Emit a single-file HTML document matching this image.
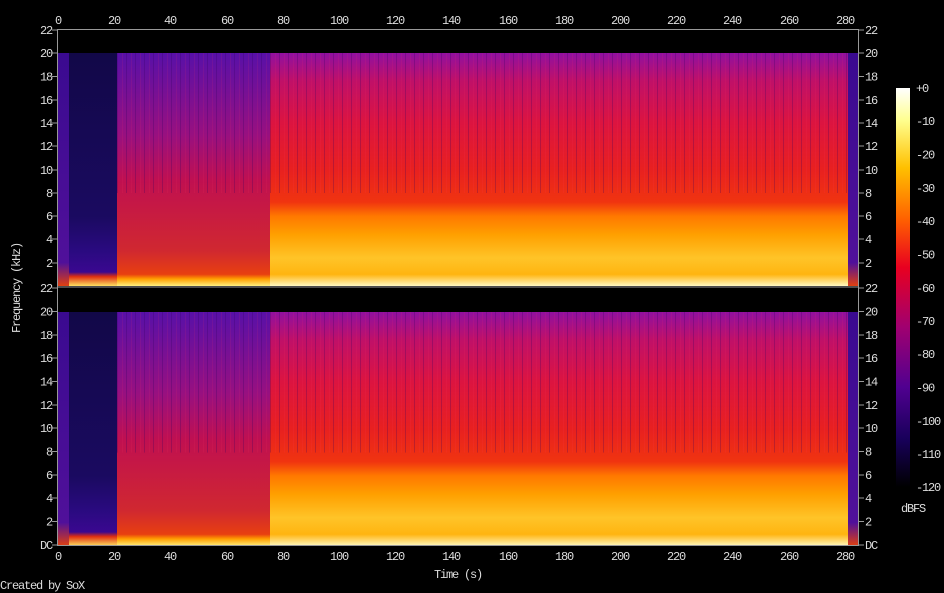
<!DOCTYPE html>
<html><head><style>body{margin:0;background:#000}svg{display:block}text{font-family:"Liberation Mono",monospace;font-size:12px;letter-spacing:-1.2px;fill:#ddd}</style></head><body>
<svg width="944" height="593" viewBox="0 0 944 593">
<defs>
<linearGradient id="main" x1="0" y1="0" x2="0" y2="1">
<stop offset="0" stop-color="#9010a0"/><stop offset="0.12" stop-color="#c01068"/><stop offset="0.3" stop-color="#dc1440"/><stop offset="0.5" stop-color="#e82020"/><stop offset="0.64" stop-color="#f03410"/><stop offset="0.7" stop-color="#ff7800"/><stop offset="0.78" stop-color="#ffa000"/><stop offset="0.88" stop-color="#ffc428"/><stop offset="0.95" stop-color="#ffb410"/><stop offset="1" stop-color="#fff8c0"/></linearGradient>
<linearGradient id="mid" x1="0" y1="0" x2="0" y2="1">
<stop offset="0" stop-color="#5810a8"/><stop offset="0.35" stop-color="#981080"/><stop offset="0.55" stop-color="#c01050"/><stop offset="0.85" stop-color="#d02830"/><stop offset="0.95" stop-color="#e84010"/><stop offset="0.97" stop-color="#ffa000"/><stop offset="1" stop-color="#fff080"/></linearGradient>
<linearGradient id="dark" x1="0" y1="0" x2="0" y2="1">
<stop offset="0" stop-color="#120848"/><stop offset="0.7" stop-color="#1a0a60"/><stop offset="0.85" stop-color="#2a0a80"/><stop offset="0.94" stop-color="#3a0890"/><stop offset="0.96" stop-color="#e03010"/><stop offset="1" stop-color="#ffe060"/></linearGradient>
<linearGradient id="edge" x1="0" y1="0" x2="0" y2="1">
<stop offset="0" stop-color="#3a0a90"/><stop offset="0.9" stop-color="#50109a"/><stop offset="1" stop-color="#e04010"/></linearGradient>
<linearGradient id="cb" x1="0" y1="0" x2="0" y2="1">
<stop offset="0" stop-color="#ffffff"/><stop offset="0.08" stop-color="#ffff90"/><stop offset="0.2" stop-color="#ffc000"/><stop offset="0.33" stop-color="#ff6000"/><stop offset="0.45" stop-color="#e80020"/><stop offset="0.6" stop-color="#a00070"/><stop offset="0.75" stop-color="#500090"/><stop offset="0.88" stop-color="#18005a"/><stop offset="1" stop-color="#000000"/></linearGradient>
<pattern id="streak" width="9" height="10" patternUnits="userSpaceOnUse"><rect x="0" y="0" width="1" height="10" fill="#300060" opacity="0.25"/><rect x="5" y="0" width="1" height="10" fill="#ff4060" opacity="0.1"/></pattern>
<g id="ch">
<rect x="58" y="0" width="11" height="233" fill="url(#edge)"/>
<rect x="69" y="0" width="48" height="233" fill="url(#dark)"/>
<rect x="117" y="0" width="153" height="233" fill="url(#mid)"/>
<rect x="270" y="0" width="578" height="233" fill="url(#main)"/>
<rect x="117" y="0" width="731" height="140" fill="url(#streak)"/>
<rect x="848" y="0" width="10" height="233" fill="url(#edge)"/>
</g>
</defs>
<use href="#ch" x="0" y="53"/>
<use href="#ch" x="0" y="312" transform="translate(0,312) scale(1,1.0043) translate(0,-312)"/>
<line x1="58" y1="287" x2="858" y2="287" stroke="#999"/>
<rect x="57.5" y="29.5" width="801" height="516" fill="none" stroke="#999"/>
<g stroke="#999">
<line x1="52" y1="30" x2="58" y2="30"/><line x1="52" y1="53" x2="58" y2="53"/><line x1="52" y1="76.5" x2="58" y2="76.5"/><line x1="52" y1="100" x2="58" y2="100"/><line x1="52" y1="123" x2="58" y2="123"/><line x1="52" y1="146" x2="58" y2="146"/><line x1="52" y1="170" x2="58" y2="170"/><line x1="52" y1="193" x2="58" y2="193"/><line x1="52" y1="216" x2="58" y2="216"/><line x1="52" y1="239" x2="58" y2="239"/><line x1="52" y1="263" x2="58" y2="263"/>
<line x1="52" y1="288" x2="58" y2="288"/><line x1="52" y1="311.5" x2="58" y2="311.5"/><line x1="52" y1="335" x2="58" y2="335"/><line x1="52" y1="358" x2="58" y2="358"/><line x1="52" y1="381.5" x2="58" y2="381.5"/><line x1="52" y1="405" x2="58" y2="405"/><line x1="52" y1="428" x2="58" y2="428"/><line x1="52" y1="451.5" x2="58" y2="451.5"/><line x1="52" y1="475" x2="58" y2="475"/><line x1="52" y1="498" x2="58" y2="498"/><line x1="52" y1="521.5" x2="58" y2="521.5"/><line x1="52" y1="545" x2="58" y2="545"/>
<line x1="858" y1="30" x2="864" y2="30"/><line x1="858" y1="53" x2="864" y2="53"/><line x1="858" y1="76.5" x2="864" y2="76.5"/><line x1="858" y1="100" x2="864" y2="100"/><line x1="858" y1="123" x2="864" y2="123"/><line x1="858" y1="146" x2="864" y2="146"/><line x1="858" y1="170" x2="864" y2="170"/><line x1="858" y1="193" x2="864" y2="193"/><line x1="858" y1="216" x2="864" y2="216"/><line x1="858" y1="239" x2="864" y2="239"/><line x1="858" y1="263" x2="864" y2="263"/>
<line x1="858" y1="288" x2="864" y2="288"/><line x1="858" y1="311.5" x2="864" y2="311.5"/><line x1="858" y1="335" x2="864" y2="335"/><line x1="858" y1="358" x2="864" y2="358"/><line x1="858" y1="381.5" x2="864" y2="381.5"/><line x1="858" y1="405" x2="864" y2="405"/><line x1="858" y1="428" x2="864" y2="428"/><line x1="858" y1="451.5" x2="864" y2="451.5"/><line x1="858" y1="475" x2="864" y2="475"/><line x1="858" y1="498" x2="864" y2="498"/><line x1="858" y1="521.5" x2="864" y2="521.5"/><line x1="858" y1="545" x2="864" y2="545"/>
</g>
<g text-anchor="end">
<text x="52" y="34">22</text><text x="52" y="57">20</text><text x="52" y="80.5">18</text><text x="52" y="104">16</text><text x="52" y="127">14</text><text x="52" y="150">12</text><text x="52" y="174">10</text><text x="52" y="197">8</text><text x="52" y="220">6</text><text x="52" y="243">4</text><text x="52" y="267">2</text>
<text x="52" y="292">22</text><text x="52" y="315.5">20</text><text x="52" y="339">18</text><text x="52" y="362">16</text><text x="52" y="385.5">14</text><text x="52" y="409">12</text><text x="52" y="432">10</text><text x="52" y="455.5">8</text><text x="52" y="479">6</text><text x="52" y="502">4</text><text x="52" y="525.5">2</text><text x="52" y="549">DC</text>
</g>
<g>
<text x="865" y="34">22</text><text x="865" y="57">20</text><text x="865" y="80.5">18</text><text x="865" y="104">16</text><text x="865" y="127">14</text><text x="865" y="150">12</text><text x="865" y="174">10</text><text x="865" y="197">8</text><text x="865" y="220">6</text><text x="865" y="243">4</text><text x="865" y="267">2</text>
<text x="865" y="292">22</text><text x="865" y="315.5">20</text><text x="865" y="339">18</text><text x="865" y="362">16</text><text x="865" y="385.5">14</text><text x="865" y="409">12</text><text x="865" y="432">10</text><text x="865" y="455.5">8</text><text x="865" y="479">6</text><text x="865" y="502">4</text><text x="865" y="525.5">2</text><text x="865" y="549">DC</text>
</g>
<g text-anchor="middle">
<text x="58" y="24">0</text><text x="114" y="24">20</text><text x="170" y="24">40</text><text x="227" y="24">60</text><text x="283" y="24">80</text><text x="339" y="24">100</text><text x="395" y="24">120</text><text x="451" y="24">140</text><text x="508" y="24">160</text><text x="564" y="24">180</text><text x="620" y="24">200</text><text x="676" y="24">220</text><text x="732" y="24">240</text><text x="789" y="24">260</text><text x="845" y="24">280</text>
<text x="58" y="560">0</text><text x="114" y="560">20</text><text x="170" y="560">40</text><text x="227" y="560">60</text><text x="283" y="560">80</text><text x="339" y="560">100</text><text x="395" y="560">120</text><text x="451" y="560">140</text><text x="508" y="560">160</text><text x="564" y="560">180</text><text x="620" y="560">200</text><text x="676" y="560">220</text><text x="732" y="560">240</text><text x="789" y="560">260</text><text x="845" y="560">280</text>
<text x="458" y="578">Time (s)</text>
<text x="0" y="0" transform="translate(20,288) rotate(-90)">Frequency (kHz)</text>
</g>
<rect x="896" y="88" width="14" height="399" fill="url(#cb)"/>
<g>
<text x="916" y="92">+0</text><text x="916" y="125">-10</text><text x="916" y="158.5">-20</text><text x="916" y="192">-30</text><text x="916" y="225">-40</text><text x="916" y="258.5">-50</text><text x="916" y="292">-60</text><text x="916" y="325">-70</text><text x="916" y="358">-80</text><text x="916" y="391.5">-90</text><text x="916" y="425">-100</text><text x="916" y="458">-110</text><text x="916" y="491">-120</text>
<text x="901" y="512">dBFS</text>
<text x="0" y="589">Created by SoX</text>
</g>
</svg>
</body></html>
